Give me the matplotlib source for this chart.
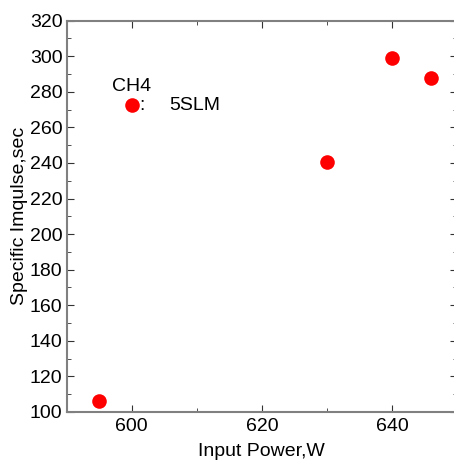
import matplotlib.pyplot as plt
from matplotlib.ticker import MultipleLocator

plt.rcParams['font.family'] = ['Liberation Sans', 'DejaVu Sans']

# Data
power = [595, 630, 640, 646]
isp = [106, 240.5, 299.3, 287.8]
legend_x = [600]
legend_y = [272.4]

fig = plt.figure(figsize=(4.54, 4.62), dpi=100)
ax = fig.add_axes([66.7 / 454, 1 - 412 / 462, (457 - 66.7) / 454, (412 - 20.7) / 462])

ax.plot(power, isp, 'o', color='red', markersize=10.5, markeredgewidth=0)
ax.plot(legend_x, legend_y, 'o', color='red', markersize=10.5, markeredgewidth=0)
ax.text(600, 278, 'CH4', fontsize=14, ha='center', va='bottom')
ax.text(601.2, 272.4, ':', fontsize=14, ha='left', va='center')
ax.text(605.8, 272.4, '5SLM', fontsize=14, ha='left', va='center')

ax.set_xlim(590, 650)
ax.set_ylim(100, 320)
ax.xaxis.set_major_locator(MultipleLocator(20))
ax.xaxis.set_minor_locator(MultipleLocator(10))
ax.yaxis.set_major_locator(MultipleLocator(20))
ax.yaxis.set_minor_locator(MultipleLocator(10))
ax.tick_params(which='both', direction='in', top=True, right=True, labelsize=14, color='#333333')
ax.tick_params(axis='x', pad=4)
ax.tick_params(axis='y', pad=3)
ax.tick_params(which='major', length=5)
ax.tick_params(which='minor', length=3)
for s in ax.spines.values():
    s.set_color('#808080')
    s.set_linewidth(1.5)

ax.set_xlabel('Input Power,W', fontsize=14, labelpad=6)
ax.set_ylabel('Specific Imqulse,sec', fontsize=14, labelpad=1)

fig.savefig('out.png', dpi=100)
